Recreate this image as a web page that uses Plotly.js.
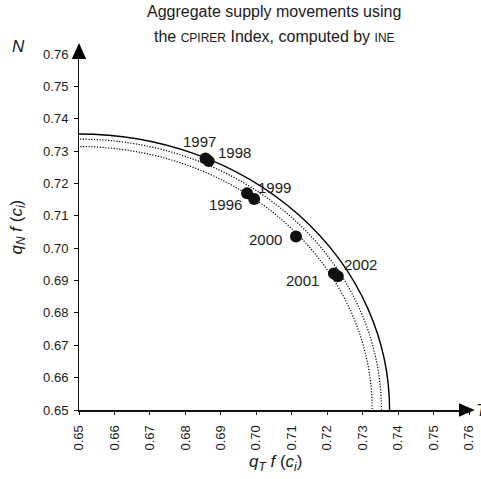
<!DOCTYPE html>
<html>
<head>
<meta charset="utf-8">
<script src="https://cdn.plot.ly/plotly-3.0.1.min.js"></script>
<style>html,body{margin:0;padding:0;background:#fff;}#chart{width:481px;height:479px;}</style>
</head>
<body>
<div id="chart"></div>
<script>
// ---- data ----
const years = ['1996', '1997', '1998', '1999', '2000', '2001', '2002'];
const qT = [0.6994, 0.6857, 0.6866, 0.6974, 0.7112, 0.7219, 0.7230];
const qN = [0.7152, 0.7277, 0.7269, 0.7170, 0.7036, 0.6922, 0.6913];

// frontier intercepts (outer solid, then two dotted)
const frontierT = [0.7376, 0.7353, 0.7327];
const frontierN = [0.7353, 0.7337, 0.7314];

const tickValues = [0.65, 0.66, 0.67, 0.68, 0.69, 0.70, 0.71, 0.72, 0.73, 0.74, 0.75, 0.76];
const tickLabels = ['0.65', '0.66', '0.67', '0.68', '0.69', '0.70', '0.71', '0.72', '0.73', '0.74', '0.75', '0.76'];
const axisOrigin = [0.65, 0.65];

// ---- styling ----
const FONT = 'Liberation Sans, Arial, sans-serif';
const labelShift = {
  '1996': [-29, -6], '1997': [-6, 17], '1998': [26, 9], '1999': [27, 6],
  '2000': [-30, -3], '2001': [-31, -7], '2002': [23, 12]
};
const frontierDash = ['solid', '1.2px,1.6px', '1.2px,1.6px'];
const frontierWidth = [1.4, 1.2, 1.2];

const shapes = frontierT.map((t, i) => ({
  type: 'circle', xref: 'x', yref: 'y',
  x0: axisOrigin[0] - (t - axisOrigin[0]), x1: t,
  y0: axisOrigin[1] - (frontierN[i] - axisOrigin[1]), y1: frontierN[i],
  line: {color: '#000', width: frontierWidth[i], dash: frontierDash[i]},
  fillcolor: 'rgba(0,0,0,0)', layer: 'below'
}));
// axis arrowheads
shapes.push({type: 'path', xref: 'paper', yref: 'paper', xsizemode: 'pixel', ysizemode: 'pixel',
  xanchor: 0, yanchor: 1, path: 'M -7.2,-5 L 7.2,-5 L 0,11 Z', fillcolor: '#000', line: {width: 0}});
shapes.push({type: 'path', xref: 'paper', yref: 'paper', xsizemode: 'pixel', ysizemode: 'pixel',
  xanchor: 1, yanchor: 0, path: 'M -10,-6.7 L -10,6.7 L 5.7,0 Z', fillcolor: '#000', line: {width: 0}});

const annotations = years.map((yr, i) => ({
  x: qT[i], y: qN[i], xref: 'x', yref: 'y', text: yr, showarrow: false,
  xanchor: 'center', yanchor: 'middle',
  xshift: labelShift[yr][0], yshift: labelShift[yr][1],
  font: {family: FONT, size: 15, color: '#1a1a1a'}
}));
const fixedText = (x, y, xs, ys, text, size, extra) => Object.assign({
  xref: 'paper', yref: 'paper', x: x, y: y, xshift: xs, yshift: ys, showarrow: false,
  xanchor: 'center', yanchor: 'middle', text: text,
  font: {family: FONT, size: size, color: '#1a1a1a'}
}, extra || {});
annotations.push(
  fixedText(0.5, 1, 0, 42.5, 'Aggregate supply movements using', 16),
  fixedText(0.5, 1, 0, 17.5,
    'the <span style="font-size:12px">CPIRER</span> Index, computed by <span style="font-size:12px">INE</span>', 16),
  fixedText(0, 1, -61, 7.5, '<i>N</i>', 17),
  fixedText(1, 0, 5, 0, '<i>T</i>', 17, {xanchor: 'left'}),
  fixedText(0, 0.5, -61.5, 5, '<i>q</i><sub><i>N</i></sub> <i>f</i> (<i>c</i><sub><i>i</i></sub>)', 17, {textangle: -90}),
  fixedText(0.5, 0, 1, -53, '<i>q</i><sub><i>T</i></sub> <i>f</i> (<i>c</i><sub><i>i</i></sub>)', 17)
);

const trace = {
  x: qT, y: qN, text: years, type: 'scatter', mode: 'markers',
  marker: {color: '#111', size: 12}, cliponaxis: false, hoverinfo: 'text'
};

const axisCommon = {
  range: [0.65, 0.76], tickmode: 'array', tickvals: tickValues, ticktext: tickLabels,
  showgrid: false, zeroline: false, showline: true, linecolor: '#111', linewidth: 1.5,
  ticks: 'outside', ticklen: 3.5, tickwidth: 1, tickcolor: '#111',
  tickfont: {family: FONT, size: 13, color: '#1a1a1a'}, fixedrange: true
};

const layout = {
  width: 481, height: 479,
  margin: {l: 79, r: 12, t: 54, b: 69, pad: 0},
  paper_bgcolor: '#fff', plot_bgcolor: '#fff', showlegend: false,
  xaxis: Object.assign({}, axisCommon, {tickangle: -90, ticklabelstandoff: 5}),
  yaxis: Object.assign({}, axisCommon, {ticklabelstandoff: 3}),
  shapes: shapes, annotations: annotations
};

Plotly.newPlot('chart', [trace], layout, {staticPlot: true});
</script>
</body>
</html>
